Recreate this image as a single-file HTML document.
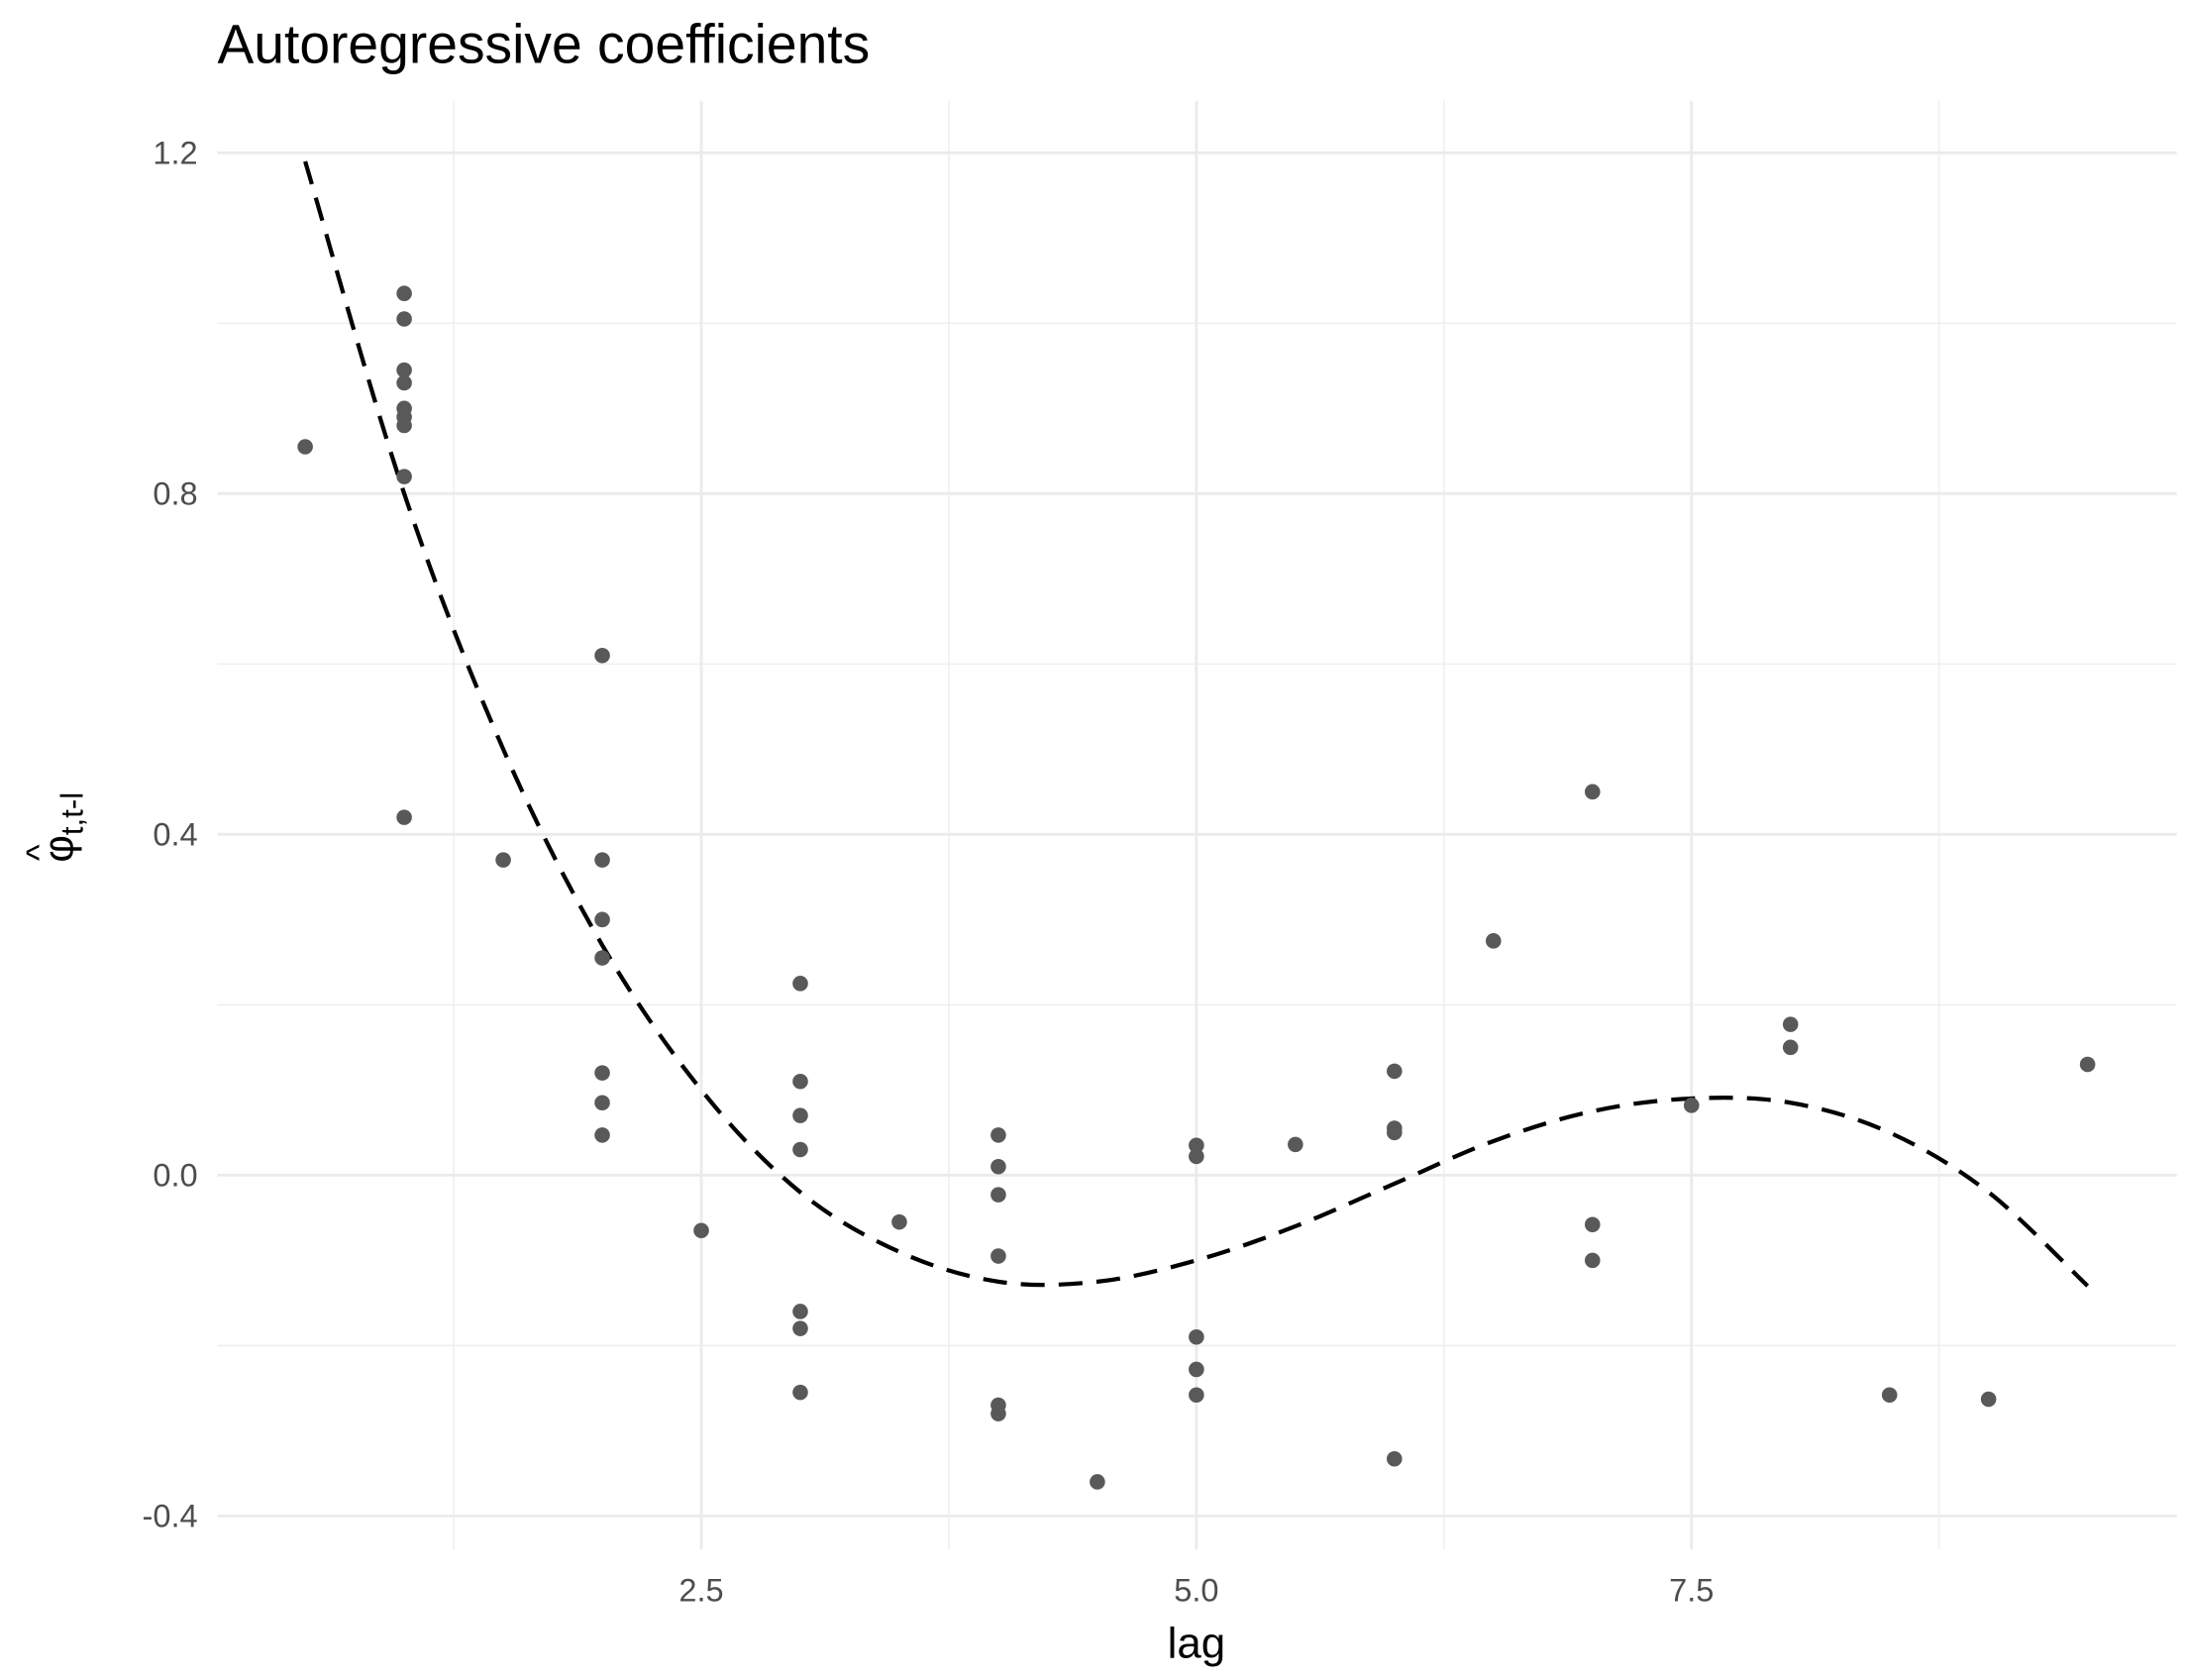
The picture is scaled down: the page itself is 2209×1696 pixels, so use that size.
<!DOCTYPE html>
<html><head><meta charset="utf-8"><style>
html,body{margin:0;padding:0;background:#fff}
svg{display:block}
text{font-family:"Liberation Sans",sans-serif}
</style></head><body>
<svg id="chart" width="2209" height="1696" viewBox="0 0 1560 1198" preserveAspectRatio="none" xmlns="http://www.w3.org/2000/svg">
<rect width="1560" height="1198" fill="#fff"/>
<text x="155" y="45" font-size="39" fill="#000">Autoregressive coefficients</text>
<g id="grid"></g>
<g id="axes"></g>
<path id="fit" fill="none" stroke="#000" stroke-width="3" stroke-dasharray="17,10"/>
<g id="pts"></g>
<text x="853" y="1182" font-size="31" text-anchor="middle" fill="#000">lag</text>
<g transform="translate(52,590) rotate(-90)">
<text x="0" y="0" font-size="30" text-anchor="middle" fill="#000">φ<tspan font-size="22" dy="7">t,t-l</tspan></text>
<text x="-18" y="-16" font-size="25" text-anchor="middle" fill="#000">^</text>
</g>
</svg>
<script>
const lags=[0.5,1,1,1,1,1,1,1,1,1,1.5,2,2,2,2,2,2,2,2.5,3,3,3,3,3,3,3,3.5,4,4,4,4,4,4,4.5,5,5,5,5,5,5.5,6,6,6,6,6.5,7,7,7,7.5,8,8,8.5,9,9.5];
const coefs=[0.855,1.035,1.005,0.945,0.93,0.9,0.89,0.88,0.82,0.42,0.37,0.61,0.37,0.3,0.255,0.12,0.085,0.047,-0.065,0.225,0.11,0.07,0.03,-0.16,-0.18,-0.255,-0.055,0.047,0.01,-0.023,-0.095,-0.27,-0.28,-0.36,0.035,0.022,-0.19,-0.228,-0.258,0.036,0.122,0.055,0.05,-0.333,0.275,0.45,-0.058,-0.1,0.082,0.177,0.15,-0.258,-0.263,0.13];
const fitX=[0.5,1,1.5,2,2.5,3,3.5,4,4.5,5,5.5,6,6.5,7,7.5,8,8.5,9,9.5];
const fitY=[1.19,0.80,0.50,0.27,0.10,-0.02,-0.09,-0.125,-0.125,-0.10,-0.06,-0.01,0.04,0.075,0.09,0.085,0.05,-0.02,-0.13];
const xTicks=[2.5,5.0,7.5];
const xTickLabels=["2.5","5.0","7.5"];
const yTicks=[-0.4,0,0.4,0.8,1.2];
const yTickLabels=["-0.4","0.0","0.4","0.8","1.2"];
const xMinor=[1.25,3.75,6.25,8.75];
const yMinor=[-0.2,0.2,0.6,1.0];
const NS="http://www.w3.org/2000/svg";
const sx=v=>500+(v-2.5)*141.2;
const sy=v=>838-v*607.5;
const L=155,R=1552,T=72,B=1105;
function mk(tag,attrs,parent){const e=document.createElementNS(NS,tag);for(const k in attrs)e.setAttribute(k,attrs[k]);parent.appendChild(e);return e;}
const grid=document.getElementById('grid'),axes=document.getElementById('axes'),pts=document.getElementById('pts');
xMinor.forEach(v=>{const l=mk('line',{x1:sx(v),x2:sx(v),y1:T,y2:B,stroke:'#f0f0f0','stroke-width':1.2},grid);

});
yMinor.forEach(v=>{const l=mk('line',{x1:L,x2:R,y1:sy(v),y2:sy(v),stroke:'#f0f0f0','stroke-width':1.2},grid);

});
xTicks.forEach((v,i)=>{const l=mk('line',{x1:sx(v),x2:sx(v),y1:T,y2:B,stroke:'#ebebeb','stroke-width':2},grid);


const t=mk('text',{x:sx(v),y:1142,'font-size':23,'text-anchor':'middle',fill:'#4d4d4d'},axes);t.textContent=xTickLabels[i];

});
yTicks.forEach((v,i)=>{const l=mk('line',{x1:L,x2:R,y1:sy(v),y2:sy(v),stroke:'#ebebeb','stroke-width':2},grid);


const t=mk('text',{x:141,y:sy(v)+8,'font-size':23,'text-anchor':'end',fill:'#4d4d4d'},axes);t.textContent=yTickLabels[i];

});
lags.forEach((v,i)=>{const c=mk('circle',{cx:sx(v),cy:sy(coefs[i]),r:5.5,fill:'#595959'},pts);

});
const P=fitX.map((v,i)=>[sx(v),sy(fitY[i])]);
let d='M'+P[0][0]+','+P[0][1];
for(let i=0;i<P.length-1;i++){const p0=P[i-1]||P[i],p1=P[i],p2=P[i+1],p3=P[i+2]||P[i+1];
d+=' C'+(p1[0]+(p2[0]-p0[0])/6)+','+(p1[1]+(p2[1]-p0[1])/6)+' '+(p2[0]-(p3[0]-p1[0])/6)+','+(p2[1]-(p3[1]-p1[1])/6)+' '+p2[0]+','+p2[1];}
document.getElementById('fit').setAttribute('d',d);
</script>
</body></html>
